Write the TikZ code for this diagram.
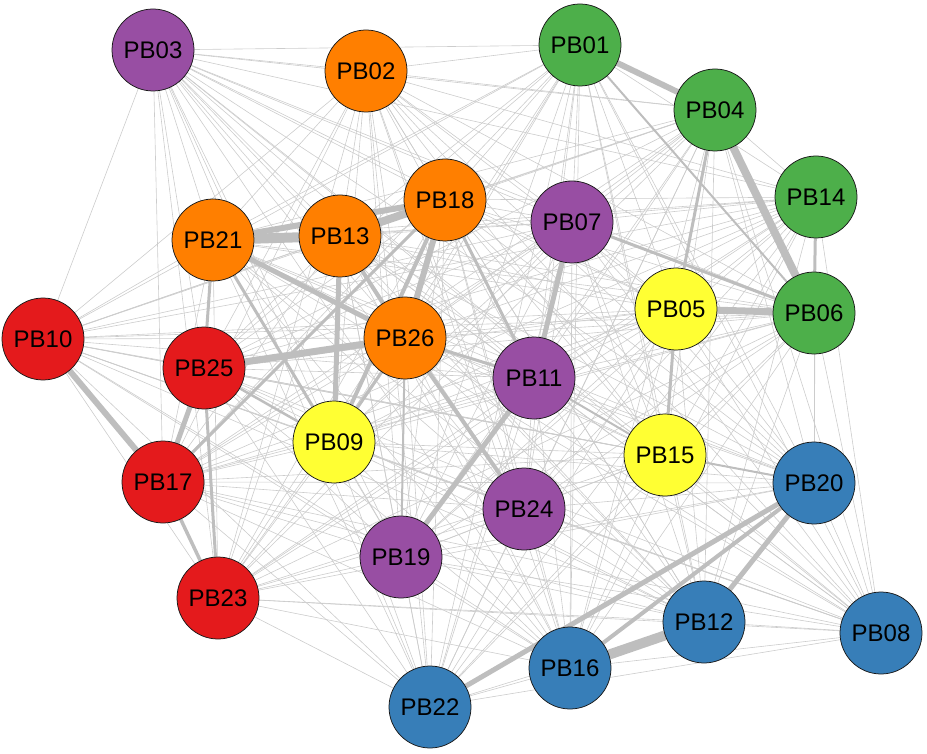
\documentclass[tikz,border=0pt]{standalone}
\usepackage{fontspec}
\setmainfont{Liberation Sans}
\usetikzlibrary{backgrounds}
\definecolor{cred}{HTML}{E41A1C}
\definecolor{cblue}{HTML}{377EB8}
\definecolor{cgreen}{HTML}{4DAF4A}
\definecolor{cpurple}{HTML}{984EA3}
\definecolor{corange}{HTML}{FF7F00}
\definecolor{cyellow}{HTML}{FFFF33}
\definecolor{thinedge}{HTML}{CCCCCC}
\definecolor{wedge}{HTML}{BEBEBE}
\tikzset{
  pb/.style={circle, draw=black!90, line width=0.75pt, minimum size=82pt, inner sep=0pt,
     font=\fontsize{24}{28}\selectfont, text=black},
  tedge/.style={draw=thinedge, line width=0.6pt},
  wl/.style={draw=wedge, line width=#1}
}
\begin{document}
\begin{tikzpicture}[x=1pt,y=-1pt]
\useasboundingbox (0,0) rectangle (927,754);
\node[pb, fill=cpurple] (PB03) at (153,50) {PB03};
\node[pb, fill=corange] (PB02) at (366,71) {PB02};
\node[pb, fill=cgreen] (PB01) at (580,45) {PB01};
\node[pb, fill=cgreen] (PB04) at (715,110) {PB04};
\node[pb, fill=cgreen] (PB14) at (816,197) {PB14};
\node[pb, fill=cgreen] (PB06) at (814,313) {PB06};
\node[pb, fill=cpurple] (PB07) at (572,222) {PB07};
\node[pb, fill=corange] (PB18) at (445,200) {PB18};
\node[pb, fill=corange] (PB13) at (340,236) {PB13};
\node[pb, fill=corange] (PB21) at (213,240) {PB21};
\node[pb, fill=cred] (PB10) at (43,339) {PB10};
\node[pb, fill=cred] (PB25) at (204,368) {PB25};
\node[pb, fill=corange] (PB26) at (405,338) {PB26};
\node[pb, fill=cpurple] (PB11) at (534,378) {PB11};
\node[pb, fill=cyellow] (PB05) at (676,309) {PB05};
\node[pb, fill=cyellow] (PB09) at (334,442) {PB09};
\node[pb, fill=cred] (PB17) at (163,482) {PB17};
\node[pb, fill=cyellow] (PB15) at (665,455) {PB15};
\node[pb, fill=cblue] (PB20) at (814,483) {PB20};
\node[pb, fill=cpurple] (PB24) at (524,509) {PB24};
\node[pb, fill=cpurple] (PB19) at (401,557) {PB19};
\node[pb, fill=cred] (PB23) at (218,598) {PB23};
\node[pb, fill=cblue] (PB12) at (704,622) {PB12};
\node[pb, fill=cblue] (PB08) at (881,633) {PB08};
\node[pb, fill=cblue] (PB16) at (570,668) {PB16};
\node[pb, fill=cblue] (PB22) at (430,707) {PB22};
\begin{pgfonlayer}{background}
\foreach \a [count=\i] in {PB01,PB02,PB03,PB04,PB05,PB06,PB07,PB08,PB09,PB10,PB11,PB12,PB13,PB14,PB15,PB16,PB17,PB18,PB19,PB20,PB21,PB22,PB23,PB24,PB25,PB26}{
  \foreach \b [count=\j] in {PB01,PB02,PB03,PB04,PB05,PB06,PB07,PB08,PB09,PB10,PB11,PB12,PB13,PB14,PB15,PB16,PB17,PB18,PB19,PB20,PB21,PB22,PB23,PB24,PB25,PB26}{
    \ifnum\j>\i \draw[tedge] (\a) -- (\b); \fi
  }
}
\draw[wl=10pt] (PB21) -- (PB13);
\draw[wl=6pt] (PB21) -- (PB18);
\draw[wl=10pt] (PB16) -- (PB12);
\draw[wl=8pt] (PB04) -- (PB06);
\draw[wl=6pt] (PB01) -- (PB04);
\draw[wl=7pt] (PB05) -- (PB06);
\draw[wl=8pt] (PB13) -- (PB18);
\draw[wl=7pt] (PB25) -- (PB26);
\draw[wl=6pt] (PB18) -- (PB26);
\draw[wl=5pt] (PB21) -- (PB26);
\draw[wl=6pt] (PB10) -- (PB17);
\draw[wl=5pt] (PB07) -- (PB11);
\draw[wl=5pt] (PB11) -- (PB19);
\draw[wl=5pt] (PB22) -- (PB20);
\draw[wl=4pt] (PB16) -- (PB20);
\draw[wl=5pt] (PB12) -- (PB20);
\draw[wl=5pt] (PB13) -- (PB09);
\draw[wl=5pt] (PB25) -- (PB17);
\draw[wl=4pt] (PB26) -- (PB24);
\draw[wl=4pt] (PB13) -- (PB26);
\draw[wl=4pt] (PB18) -- (PB09);
\draw[wl=3.5pt] (PB17) -- (PB23);
\draw[wl=3pt] (PB25) -- (PB23);
\draw[wl=3pt] (PB21) -- (PB25);
\draw[wl=3pt] (PB14) -- (PB06);
\draw[wl=3pt] (PB04) -- (PB05);
\draw[wl=3pt] (PB07) -- (PB06);
\draw[wl=3pt] (PB05) -- (PB15);
\draw[wl=3pt] (PB18) -- (PB11);
\draw[wl=3pt] (PB26) -- (PB11);
\draw[wl=3pt] (PB21) -- (PB09);
\draw[wl=3pt] (PB17) -- (PB18);
\draw[wl=3pt] (PB26) -- (PB09);
\draw[wl=2pt] (PB01) -- (PB06);
\draw[wl=2pt] (PB11) -- (PB15);
\draw[wl=2.5pt] (PB25) -- (PB09);
\draw[wl=2pt] (PB26) -- (PB19);
\draw[wl=2pt] (PB15) -- (PB20);
\end{pgfonlayer}
\end{tikzpicture}
\end{document}
